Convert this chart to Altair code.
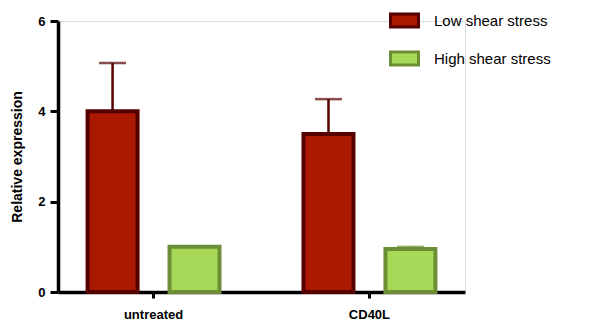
import altair as alt
import pandas as pd

categories = ["untreated", "untreated", "CD40L", "CD40L"]
series = ["Low shear stress", "High shear stress", "Low shear stress", "High shear stress"]
values = [4.0, 1.0, 3.5, 0.95]
errors = [1.07, 0.0, 0.77, 0.05]

series_order = ["Low shear stress", "High shear stress"]
fills = ["#aa1900", "#a8d858"]
strokes = ["#560000", "#6c8e34"]

df = pd.DataFrame({"cat": categories, "series": series, "value": values, "err": errors})
df["top"] = df["value"] + df["err"]

x = alt.X("cat:N", sort=["untreated", "CD40L"], title=None,
          scale=alt.Scale(paddingInner=0.389, paddingOuter=0.137),
          axis=alt.Axis(labelAngle=0, labelFont="Liberation Sans", labelFontWeight="bold",
                        labelFontSize=13, labelColor="black", labelPadding=10,
                        tickSize=6, tickWidth=3, tickColor="black",
                        domainWidth=3.5, domainColor="black", grid=False))
xo = alt.XOffset("series:N", scale=alt.Scale(domain=series_order, paddingInner=0.39, paddingOuter=0))
y_scale = alt.Scale(domain=[0, 6], nice=False)
y = alt.Y("value:Q", scale=y_scale, title="Relative expression",
          axis=alt.Axis(values=[0, 2, 4, 6], labelFont="Liberation Sans", labelFontWeight="bold",
                        labelFontSize=13, labelColor="black", labelPadding=5,
                        tickSize=8, tickWidth=3, tickColor="black",
                        domainWidth=3.5, domainColor="black", grid=False,
                        titleFont="Liberation Sans", titleFontWeight="bold", titleFontSize=14,
                        titleColor="black", titlePadding=13))

leg = alt.Legend(title=None, orient="none", legendX=331, legendY=-16,
                 symbolType="M-1,-0.46H1V0.46H-1Z", symbolSize=784, symbolStrokeWidth=3,
                 labelFont="Liberation Sans", labelFontSize=15, labelColor="black",
                 labelOffset=14, rowPadding=10, padding=0)
stroke = alt.Stroke("series:N", scale=alt.Scale(domain=series_order, range=strokes), legend=leg)

base = alt.Chart(df)

rules = base.mark_rule(strokeWidth=2.5).encode(
    x=x, xOffset=xo, y=alt.Y("value:Q", scale=y_scale), y2="top:Q",
    color=alt.Color("series:N", scale=alt.Scale(domain=series_order, range=strokes), legend=None))
caps = base.mark_tick(size=27, thickness=2.5, orient="horizontal").encode(
    x=x, xOffset=xo, y=alt.Y("top:Q", scale=y_scale),
    color=alt.Color("series:N", scale=alt.Scale(domain=series_order, range=strokes), legend=None))
bars = base.mark_bar(strokeWidth=4, opacity=1).encode(
    x=x, xOffset=xo, y=y, fill=alt.Fill("series:N", scale=alt.Scale(domain=series_order, range=fills), legend=leg),
    stroke=stroke)

chart = alt.layer(rules, caps, bars).resolve_scale(color="independent").properties(
    width=407, height=271,
    padding={"left": 2, "top": -3, "right": 5, "bottom": 5},
).configure_view(stroke=None).configure(background="white")

chart.save("out.html", embed_options={"renderer": "svg", "actions": False})
